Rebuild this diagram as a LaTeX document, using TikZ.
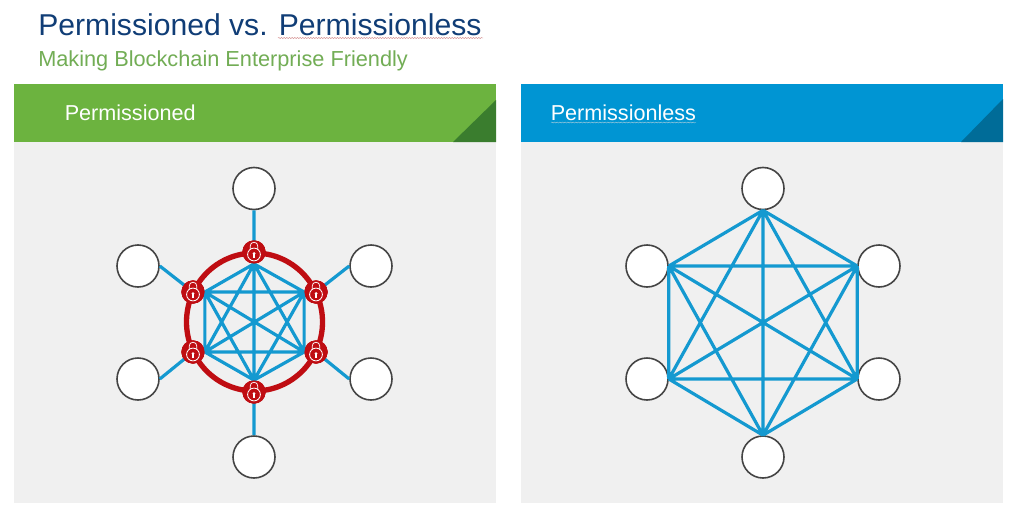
\documentclass[tikz,border=0pt]{standalone}
\usepackage{fontspec}
\setmainfont{Liberation Sans}
\usetikzlibrary{decorations.pathmorphing}
\definecolor{titleblue}{HTML}{103D76}
\definecolor{subgreen}{HTML}{72AD55}
\definecolor{hgreen}{HTML}{6CB33F}
\definecolor{dgreen}{HTML}{3A7D2E}
\definecolor{hblue}{HTML}{0095D3}
\definecolor{dblue}{HTML}{006C98}
\definecolor{panelgrey}{HTML}{F0F0F0}
\definecolor{linkblue}{HTML}{1499D0}
\definecolor{ringred}{HTML}{BF0D12}
\definecolor{nodeedge}{HTML}{444444}
\tikzset{
  peer/.style={circle,draw=nodeedge,fill=white,line width=1.2pt,minimum size=31.5pt,inner sep=0pt},
  lockbase/.style={circle,fill=ringred,minimum size=17.4pt,inner sep=0pt},
  link/.style={draw=linkblue,line width=2.4pt},
  hdr/.style={font=\fontsize{16.2pt}{18pt}\selectfont,text=white,anchor=base west,inner sep=0pt},
  squiggle/.style={decorate,decoration={snake,amplitude=0.35pt,segment length=2pt},line width=0.35pt}
}
\newcommand{\lockicon}[1]{%
  \begin{scope}[shift={(#1)}]
    \draw[white,line width=0.55pt] (-3.8,-2) -- (-3.8,-6) arc[start angle=180,end angle=360,radius=3.8] -- (3.8,-2);
    \draw[white,line width=0.6pt,fill=ringred] (0,2.5) circle[radius=6.4];
    \fill[white] (0,1.5) circle[radius=1.5];
    \fill[white] (-0.7,1.5) rectangle (0.7,5.5);
  \end{scope}}
\begin{document}
\begin{tikzpicture}[x=0.75pt,y=-0.75pt]
\useasboundingbox (0,0) rectangle (1024,514);
\fill[white] (0,0) rectangle (1024,514);
% titles
\node[anchor=base west,inner sep=0pt,text=titleblue,font=\fontsize{22.6pt}{26pt}\selectfont] (title) at (38,36) {Permissioned vs. Permissionless};
\node[anchor=base west,inner sep=0pt,text=subgreen,font=\fontsize{16.3pt}{18pt}\selectfont] (subtitle) at (38,66) {Making Blockchain Enterprise Friendly};
\draw[squiggle,draw=red!45!gray!70] (278,38) -- (483,38);
% panels
\fill[panelgrey] (14,142) rectangle (496,503);
\fill[panelgrey] (521,142) rectangle (1003,503);
\fill[hgreen] (14,84) rectangle (496,142);
\fill[dgreen] (496,100) -- (453,142) -- (496,142) -- cycle;
\fill[hblue] (521,84) rectangle (1003,142);
\fill[dblue] (1003,99) -- (961,142) -- (1003,142) -- cycle;
\node[hdr] (lefthead) at (64.5,120) {Permissioned};
\node[hdr] (righthead) at (550.5,120) {Permissionless};
\draw[squiggle,draw=white!75!gray,draw opacity=0.7] (551,122.5) -- (696,122.5);
% left network
\draw[ringred,line width=4pt] (254.5,322) ellipse[x radius=68,y radius=69];
\node[peer] (lt) at (254,188.5) {};
\node[peer] (lul) at (138,266) {};
\node[peer] (lur) at (371,266) {};
\node[peer] (lll) at (138,379) {};
\node[peer] (llr) at (371,379) {};
\node[peer] (lb) at (254,457) {};
\node[lockbase] (kt) at (254,252) {};
\node[lockbase] (kul) at (193,292) {};
\node[lockbase] (kur) at (316,292) {};
\node[lockbase] (kll) at (193,352) {};
\node[lockbase] (klr) at (316,352) {};
\node[lockbase] (kb) at (254,392) {};
\draw[link] (lt.south) -- (kt.center) (lb.north) -- (kb.center)
  (lul.east) -- (kul.center) (lur.west) -- (kur.center)
  (lll.east) -- (kll.center) (llr.west) -- (klr.center);
\foreach \p in {kt,kul,kur,kll,klr,kb} {\node[lockbase] at (\p) {};}
\draw[link] (kt.south) -- (kul.east) (kt.south) -- (kur.west) (kt.south) -- (kll.east) (kt.south) -- (klr.west) (kt.south) -- (kb.north)
  (kb.north) -- (kul.east) (kb.north) -- (kur.west) (kb.north) -- (kll.east) (kb.north) -- (klr.west)
  (kul.east) -- (kur.west) (kul.east) -- (kll.east) (kul.east) -- (klr.west)
  (kur.west) -- (kll.east) (kur.west) -- (klr.west) (kll.east) -- (klr.west);
\foreach \p in {kt,kul,kur,kll,klr,kb} {\node[lockbase] at (\p) {}; \lockicon{\p}}
% right network
\node[peer] (rt) at (763,188.5) {};
\node[peer] (rul) at (647,266) {};
\node[peer] (rur) at (879,266) {};
\node[peer] (rll) at (647,379) {};
\node[peer] (rlr) at (879,379) {};
\node[peer] (rb) at (763,457) {};
\draw[link] (rt.south) -- (rul.east) (rt.south) -- (rur.west) (rt.south) -- (rll.east) (rt.south) -- (rlr.west) (rt.south) -- (rb.north)
  (rb.north) -- (rul.east) (rb.north) -- (rur.west) (rb.north) -- (rll.east) (rb.north) -- (rlr.west)
  (rul.east) -- (rur.west) (rul.east) -- (rll.east) (rul.east) -- (rlr.west)
  (rur.west) -- (rll.east) (rur.west) -- (rlr.west) (rll.east) -- (rlr.west);
\end{tikzpicture}
\end{document}
